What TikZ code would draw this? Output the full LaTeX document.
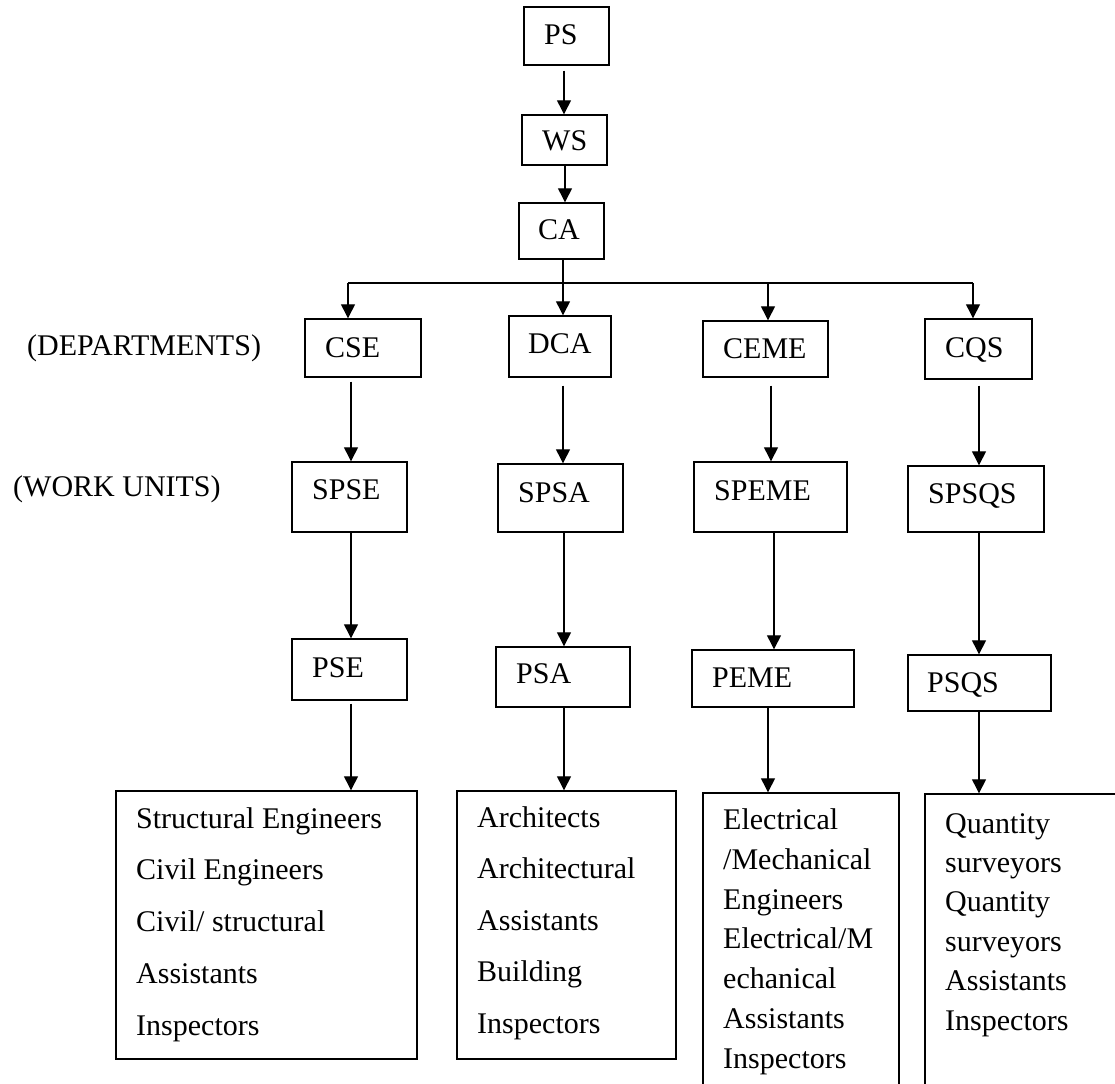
\documentclass[tikz,border=0pt]{standalone}
\usepackage{fontspec}
\setmainfont{Liberation Serif}
\usetikzlibrary{arrows.meta,fit}
\tikzset{
  box/.style={draw, line width=1.4pt, inner sep=0pt, rectangle},
  arr/.style={line width=1.3pt, -{Triangle[length=14pt,width=14pt]}},
  bus/.style={line width=1.3pt},
  lbl/.style={anchor=base west, inner sep=0pt, font=\fontsize{30}{36}\selectfont},
  list/.style={anchor=base west, inner sep=0pt, align=left},
}
\begin{document}
\begin{tikzpicture}[x=1pt,y=-1pt]
\useasboundingbox (0,0) rectangle (1115,1083);
% boxes
\node[box, fit={(524,7)(609,65)}] (PS) {};
\node[box, fit={(522,115)(607,165)}] (WS) {};
\node[box, fit={(519,203)(604,259)}] (CA) {};
\node[box, fit={(305,319)(421,377)}] (CSE) {};
\node[box, fit={(509,316)(611,377)}] (DCA) {};
\node[box, fit={(703,321)(828,377)}] (CEME) {};
\node[box, fit={(925,319)(1032,379)}] (CQS) {};
\node[box, fit={(292,462)(407,532)}] (SPSE) {};
\node[box, fit={(498,464)(623,532)}] (SPSA) {};
\node[box, fit={(694,462)(847,532)}] (SPEME) {};
\node[box, fit={(908,466)(1044,532)}] (SPSQS) {};
\node[box, fit={(292,639)(407,700)}] (PSE) {};
\node[box, fit={(496,647)(630,707)}] (PSA) {};
\node[box, fit={(692,650)(854,707)}] (PEME) {};
\node[box, fit={(908,655)(1051,711)}] (PSQS) {};
\node[box, fit={(116,791)(417,1059)}] (B1) {};
\node[box, fit={(457,791)(676,1059)}] (B2) {};
\node[box, fit={(703,793)(899,1100)}] (B3) {};
\node[box, fit={(925,794)(1130,1100)}] (B4) {};
% texts
\node[lbl] (tPS) at (544,45) {PS};
\node[lbl] (tWS) at (542,151) {WS};
\node[lbl] (tCA) at (538,240) {CA};
\node[lbl] (tCSE) at (325,357) {CSE};
\node[lbl] (tDCA) at (528,353) {DCA};
\node[lbl] (tCEME) at (723,358) {CEME};
\node[lbl] (tCQS) at (945,357) {CQS};
\node[lbl] (tSPSE) at (312,499) {SPSE};
\node[lbl] (tSPSA) at (518,502) {SPSA};
\node[lbl] (tSPEME) at (714,500) {SPEME};
\node[lbl] (tSPSQS) at (928,503) {SPSQS};
\node[lbl] (tPSE) at (312,677) {PSE};
\node[lbl] (tPSA) at (516,683) {PSA};
\node[lbl] (tPEME) at (712,687) {PEME};
\node[lbl] (tPSQS) at (927,692) {PSQS};
\node[lbl] (dep) at (27,355) {(DEPARTMENTS)};
\node[lbl] (wu) at (13,496) {(WORK UNITS)};
% multi-line lists: base anchor = last line baseline
\node[list, font=\fontsize{30}{51.75}\selectfont] (l1) at (136,1035)
  {Structural Engineers\\Civil Engineers\\Civil/ structural\\Assistants\\Inspectors};
\node[list, font=\fontsize{30}{51.5}\selectfont] (l2) at (477,1033)
  {Architects\\Architectural\\Assistants\\Building\\Inspectors};
\node[list, font=\fontsize{30}{39.7}\selectfont] (l3) at (723,1068)
  {Electrical\\/Mechanical\\Engineers\\Electrical/M\\echanical\\Assistants\\Inspectors};
\node[list, font=\fontsize{30}{39.4}\selectfont] (l4) at (945,1030)
  {Quantity\\surveyors\\Quantity\\surveyors\\Assistants\\Inspectors};
% connectors
\coordinate (j1) at (348,283);
\coordinate (j2) at (563,283);
\coordinate (j3) at (768,283);
\coordinate (j4) at (973,283);
\draw[arr, shorten <=5pt] (PS.south -| 564,0) -- (WS.north -| 564,0);
\draw[arr] (WS.south -| 565,0) -- (CA.north -| 565,0);
\draw[bus] (j1) -- (j4);
\draw[arr] (CA.south -| j2) -- (DCA.north -| j2);
\draw[arr] (j1) -- (CSE.north -| j1);
\draw[arr] (j3) -- (CEME.north -| j3);
\draw[arr] (j4) -- (CQS.north -| j4);
\draw[arr, shorten <=4pt] (CSE.south -| 351,0) -- (SPSE.north -| 351,0);
\draw[arr, shorten <=8pt] (DCA.south -| 563,0) -- (SPSA.north -| 563,0);
\draw[arr, shorten <=8pt] (CEME.south -| 771,0) -- (SPEME.north -| 771,0);
\draw[arr, shorten <=6pt] (CQS.south -| 979,0) -- (SPSQS.north -| 979,0);
\draw[arr] (SPSE.south -| 351,0) -- (PSE.north -| 351,0);
\draw[arr] (SPSA.south -| 564,0) -- (PSA.north -| 564,0);
\draw[arr] (SPEME.south -| 774,0) -- (PEME.north -| 774,0);
\draw[arr] (SPSQS.south -| 979,0) -- (PSQS.north -| 979,0);
\draw[arr, shorten <=3pt] (PSE.south -| 351,0) -- (B1.north -| 351,0);
\draw[arr] (PSA.south -| 564,0) -- (B2.north -| 564,0);
\draw[arr] (PEME.south -| 768,0) -- (B3.north -| 768,0);
\draw[arr] (PSQS.south -| 979,0) -- (B4.north -| 979,0);
\end{tikzpicture}
\end{document}
